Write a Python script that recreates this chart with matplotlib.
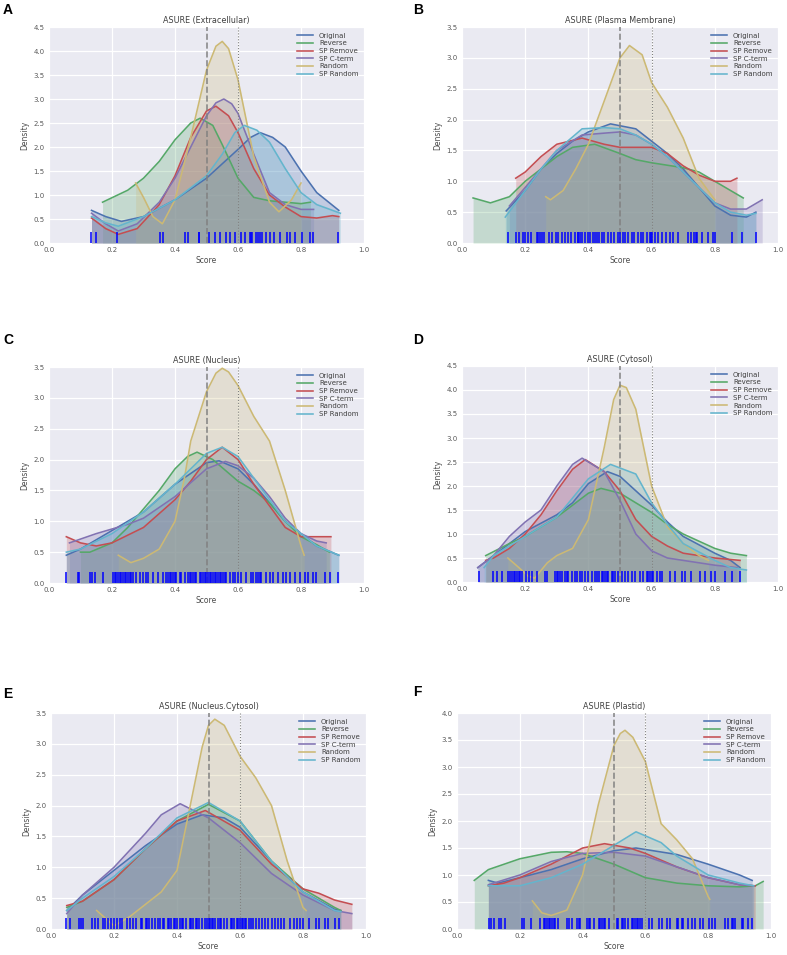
import numpy as np
import matplotlib
matplotlib.use("Agg")
import matplotlib.pyplot as plt

# series order / colours (old seaborn "deep" palette)
series = ["Original", "Reverse", "SP Remove", "SP C-term", "Random", "SP Random"]
colors = ["#4C72B0", "#55A868", "#C44E52", "#8172B2", "#CCB974", "#64B5CD"]

titles = ["ASURE (Extracellular)", "ASURE (Plasma Membrane)", "ASURE (Nucleus)",
          "ASURE (Cytosol)", "ASURE (Nucleus.Cytosol)", "ASURE (Plastid)"]
letters = ["A", "B", "C", "D", "E", "F"]
ymax = [4.5, 3.5, 3.5, 4.5, 3.5, 4.0]

# density curves: name -> (score, density)
curves_a = {
    "Original": ([0.135, 0.18, 0.23, 0.3, 0.4, 0.5, 0.6, 0.64, 0.67, 0.71, 0.75, 0.8, 0.85, 0.92],
                 [0.68, 0.55, 0.45, 0.55, 0.9, 1.35, 1.95, 2.2, 2.3, 2.2, 2.0, 1.5, 1.05, 0.68]),
    "Reverse": ([0.17, 0.25, 0.3, 0.35, 0.4, 0.45, 0.48, 0.52, 0.55, 0.6, 0.65, 0.7, 0.75, 0.8, 0.83],
                [0.85, 1.1, 1.35, 1.7, 2.15, 2.5, 2.6, 2.45, 2.05, 1.35, 0.95, 0.88, 0.85, 0.82, 0.85]),
    "SP Remove": ([0.135, 0.18, 0.22, 0.28, 0.35, 0.4, 0.45, 0.5, 0.53, 0.57, 0.6, 0.65, 0.7, 0.75, 0.8, 0.85, 0.9, 0.92],
                  [0.52, 0.3, 0.18, 0.3, 0.8, 1.4, 2.2, 2.75, 2.85, 2.65, 2.3, 1.55, 1.0, 0.75, 0.55, 0.52, 0.57, 0.55]),
    "SP C-term": ([0.135, 0.18, 0.22, 0.28, 0.35, 0.4, 0.45, 0.5, 0.53, 0.555, 0.58, 0.6, 0.65, 0.7, 0.75, 0.8, 0.84],
                  [0.62, 0.4, 0.25, 0.4, 0.85, 1.35, 2.0, 2.65, 2.92, 3.0, 2.9, 2.7, 1.85, 1.05, 0.8, 0.7, 0.7]),
    "Random": ([0.275, 0.3, 0.33, 0.36, 0.4, 0.45, 0.5, 0.53, 0.55, 0.57, 0.6, 0.65, 0.7, 0.73, 0.77, 0.8],
               [1.25, 0.95, 0.55, 0.4, 0.9, 2.2, 3.6, 4.1, 4.2, 4.05, 3.4, 1.8, 0.85, 0.65, 0.9, 1.25]),
    "SP Random": ([0.135, 0.18, 0.22, 0.3, 0.4, 0.5, 0.55, 0.59, 0.62, 0.66, 0.7, 0.75, 0.8, 0.85, 0.9, 0.925],
                  [0.55, 0.42, 0.35, 0.55, 0.9, 1.4, 1.85, 2.3, 2.45, 2.35, 2.1, 1.55, 1.05, 0.8, 0.68, 0.62]),
}
curves_b = {
    "Original": ([0.14, 0.2, 0.25, 0.3, 0.35, 0.4, 0.47, 0.55, 0.6, 0.65, 0.7, 0.75, 0.8, 0.85, 0.9, 0.93],
                 [0.52, 0.85, 1.2, 1.45, 1.65, 1.8, 1.93, 1.85, 1.65, 1.45, 1.2, 0.9, 0.6, 0.45, 0.42, 0.5]),
    "Reverse": ([0.035, 0.09, 0.15, 0.2, 0.25, 0.3, 0.35, 0.42, 0.5, 0.55, 0.6, 0.7, 0.75, 0.8, 0.85, 0.89],
                [0.73, 0.65, 0.75, 1.0, 1.2, 1.4, 1.55, 1.6, 1.45, 1.35, 1.3, 1.22, 1.15, 1.0, 0.85, 0.73]),
    "SP Remove": ([0.17, 0.2, 0.25, 0.3, 0.38, 0.45, 0.5, 0.55, 0.6, 0.65, 0.7, 0.75, 0.8, 0.85, 0.87],
                  [1.05, 1.15, 1.4, 1.6, 1.7, 1.6, 1.55, 1.55, 1.55, 1.45, 1.25, 1.1, 1.0, 1.0, 1.05]),
    "SP C-term": ([0.15, 0.2, 0.25, 0.3, 0.38, 0.45, 0.5, 0.55, 0.6, 0.65, 0.7, 0.75, 0.8, 0.85, 0.9, 0.95],
                  [0.6, 0.9, 1.2, 1.5, 1.75, 1.78, 1.8, 1.75, 1.6, 1.4, 1.15, 0.9, 0.65, 0.55, 0.55, 0.7]),
    "Random": ([0.265, 0.28, 0.32, 0.36, 0.4, 0.45, 0.5, 0.53, 0.57, 0.6, 0.65, 0.7, 0.75, 0.8],
               [0.75, 0.7, 0.85, 1.2, 1.6, 2.3, 3.0, 3.2, 3.05, 2.6, 2.2, 1.7, 1.05, 0.7]),
    "SP Random": ([0.137, 0.2, 0.25, 0.3, 0.38, 0.45, 0.5, 0.55, 0.6, 0.65, 0.7, 0.75, 0.8, 0.85, 0.9, 0.93],
                  [0.42, 0.85, 1.2, 1.5, 1.85, 1.87, 1.85, 1.75, 1.6, 1.4, 1.15, 0.9, 0.65, 0.5, 0.45, 0.48]),
}
curves_c = {
    "Original": ([0.055, 0.1, 0.2, 0.3, 0.4, 0.5, 0.54, 0.6, 0.65, 0.7, 0.75, 0.8, 0.85, 0.92],
                 [0.45, 0.55, 0.85, 1.15, 1.6, 1.95, 1.98, 1.85, 1.6, 1.3, 1.0, 0.8, 0.6, 0.45]),
    "Reverse": ([0.1, 0.13, 0.2, 0.25, 0.3, 0.35, 0.4, 0.44, 0.47, 0.52, 0.6, 0.65, 0.7, 0.75, 0.8, 0.85, 0.89],
                [0.5, 0.5, 0.65, 0.9, 1.2, 1.5, 1.85, 2.05, 2.12, 2.0, 1.65, 1.5, 1.3, 1.0, 0.75, 0.62, 0.5]),
    "SP Remove": ([0.055, 0.1, 0.15, 0.2, 0.3, 0.4, 0.45, 0.5, 0.55, 0.6, 0.65, 0.7, 0.75, 0.8, 0.85, 0.895],
                  [0.75, 0.65, 0.6, 0.65, 0.9, 1.35, 1.65, 2.0, 2.2, 2.0, 1.6, 1.25, 0.9, 0.75, 0.75, 0.75]),
    "SP C-term": ([0.065, 0.15, 0.25, 0.3, 0.4, 0.5, 0.56, 0.6, 0.65, 0.7, 0.75, 0.8, 0.85, 0.88],
                  [0.65, 0.8, 0.95, 1.05, 1.4, 1.85, 1.97, 1.9, 1.7, 1.4, 1.05, 0.8, 0.68, 0.65]),
    "Random": ([0.22, 0.26, 0.3, 0.35, 0.4, 0.43, 0.45, 0.5, 0.53, 0.55, 0.57, 0.6, 0.65, 0.7, 0.75, 0.8, 0.81],
               [0.45, 0.33, 0.4, 0.55, 1.0, 1.7, 2.3, 3.1, 3.4, 3.48, 3.42, 3.2, 2.7, 2.3, 1.5, 0.6, 0.45]),
    "SP Random": ([0.055, 0.1, 0.2, 0.3, 0.4, 0.5, 0.55, 0.6, 0.65, 0.7, 0.75, 0.8, 0.85, 0.92],
                  [0.5, 0.55, 0.8, 1.15, 1.6, 2.1, 2.2, 2.05, 1.7, 1.35, 1.0, 0.8, 0.6, 0.45]),
}
curves_d = {
    "Original": ([0.05, 0.1, 0.15, 0.2, 0.3, 0.35, 0.4, 0.46, 0.5, 0.55, 0.6, 0.65, 0.7, 0.8, 0.85, 0.88],
                 [0.3, 0.55, 0.8, 1.05, 1.4, 1.65, 2.05, 2.3, 2.2, 1.9, 1.6, 1.25, 0.95, 0.6, 0.45, 0.3]),
    "Reverse": ([0.075, 0.15, 0.2, 0.3, 0.4, 0.44, 0.5, 0.55, 0.6, 0.65, 0.7, 0.8, 0.85, 0.9],
                [0.55, 0.8, 0.95, 1.35, 1.85, 1.95, 1.85, 1.65, 1.45, 1.2, 1.0, 0.7, 0.6, 0.55]),
    "SP Remove": ([0.075, 0.1, 0.15, 0.2, 0.25, 0.3, 0.35, 0.39, 0.45, 0.5, 0.55, 0.6, 0.65, 0.7, 0.8, 0.88],
                  [0.45, 0.5, 0.7, 1.0, 1.4, 1.9, 2.35, 2.55, 2.3, 1.9, 1.3, 0.95, 0.75, 0.6, 0.5, 0.45]),
    "SP C-term": ([0.05, 0.1, 0.15, 0.2, 0.25, 0.3, 0.35, 0.38, 0.45, 0.5, 0.55, 0.6, 0.65, 0.7, 0.8, 0.87],
                  [0.3, 0.55, 0.95, 1.25, 1.5, 2.0, 2.45, 2.58, 2.3, 1.7, 1.0, 0.65, 0.5, 0.45, 0.35, 0.3]),
    "Random": ([0.145, 0.18, 0.21, 0.23, 0.27, 0.3, 0.35, 0.4, 0.45, 0.48, 0.5, 0.52, 0.55, 0.6, 0.65, 0.7, 0.75, 0.78],
               [0.5, 0.3, 0.12, 0.08, 0.4, 0.55, 0.7, 1.3, 2.8, 3.8, 4.1, 4.05, 3.6, 2.0, 1.15, 0.8, 0.55, 0.45]),
    "SP Random": ([0.07, 0.1, 0.2, 0.3, 0.4, 0.47, 0.55, 0.6, 0.65, 0.7, 0.8, 0.85, 0.9],
                  [0.3, 0.55, 0.95, 1.35, 2.15, 2.45, 2.25, 1.65, 1.2, 0.8, 0.45, 0.3, 0.25]),
}
curves_e = {
    "Original": ([0.05, 0.1, 0.2, 0.3, 0.4, 0.48, 0.55, 0.6, 0.7, 0.8, 0.9, 0.92],
                 [0.3, 0.55, 0.95, 1.35, 1.7, 1.85, 1.8, 1.65, 1.1, 0.6, 0.32, 0.3]),
    "Reverse": ([0.05, 0.1, 0.2, 0.3, 0.4, 0.5, 0.6, 0.7, 0.8, 0.9, 0.92],
                [0.35, 0.45, 0.8, 1.3, 1.75, 2.02, 1.75, 1.1, 0.65, 0.35, 0.3]),
    "SP Remove": ([0.05, 0.1, 0.2, 0.3, 0.4, 0.49, 0.6, 0.7, 0.8, 0.85, 0.9, 0.955],
                  [0.38, 0.45, 0.8, 1.3, 1.75, 1.92, 1.6, 1.05, 0.65, 0.58, 0.47, 0.4]),
    "SP C-term": ([0.05, 0.1, 0.2, 0.3, 0.35, 0.41, 0.5, 0.6, 0.7, 0.8, 0.9, 0.955],
                  [0.25, 0.55, 1.0, 1.55, 1.85, 2.03, 1.8, 1.4, 0.9, 0.55, 0.3, 0.25]),
    "Random": ([0.145, 0.2, 0.25, 0.3, 0.35, 0.4, 0.45, 0.48, 0.5, 0.52, 0.55, 0.6, 0.65, 0.7, 0.75, 0.8, 0.81],
               [0.3, 0.05, 0.2, 0.4, 0.6, 0.95, 2.2, 2.95, 3.3, 3.4, 3.3, 2.8, 2.45, 2.0, 1.1, 0.35, 0.3]),
    "SP Random": ([0.05, 0.1, 0.2, 0.3, 0.4, 0.5, 0.6, 0.7, 0.8, 0.9, 0.92],
                  [0.3, 0.5, 0.85, 1.3, 1.8, 2.05, 1.75, 1.1, 0.6, 0.3, 0.28]),
}
curves_f = {
    "Original": ([0.1, 0.13, 0.2, 0.3, 0.4, 0.5, 0.57, 0.7, 0.8, 0.9, 0.94],
                 [0.9, 0.85, 0.95, 1.1, 1.3, 1.45, 1.5, 1.38, 1.2, 1.0, 0.9]),
    "Reverse": ([0.055, 0.1, 0.2, 0.3, 0.35, 0.4, 0.5, 0.6, 0.7, 0.8, 0.9, 0.95, 0.975],
                [0.9, 1.1, 1.3, 1.42, 1.43, 1.4, 1.2, 0.95, 0.85, 0.8, 0.78, 0.8, 0.88]),
    "SP Remove": ([0.1, 0.15, 0.2, 0.3, 0.4, 0.47, 0.55, 0.6, 0.7, 0.8, 0.9, 0.95],
                  [0.8, 0.85, 0.95, 1.2, 1.5, 1.58, 1.5, 1.4, 1.15, 0.95, 0.82, 0.8]),
    "SP C-term": ([0.1, 0.2, 0.3, 0.4, 0.5, 0.6, 0.7, 0.8, 0.9, 0.945],
                  [0.82, 1.0, 1.25, 1.4, 1.42, 1.35, 1.15, 0.95, 0.82, 0.8]),
    "Random": ([0.24, 0.27, 0.3, 0.35, 0.4, 0.45, 0.5, 0.52, 0.535, 0.56, 0.6, 0.65, 0.7, 0.75, 0.8, 0.805],
               [0.52, 0.3, 0.25, 0.35, 1.0, 2.3, 3.4, 3.62, 3.68, 3.55, 3.1, 1.95, 1.65, 1.3, 0.6, 0.55]),
    "SP Random": ([0.1, 0.2, 0.3, 0.4, 0.5, 0.57, 0.65, 0.7, 0.8, 0.9, 0.945],
                  [0.8, 0.8, 0.95, 1.2, 1.55, 1.8, 1.6, 1.35, 1.0, 0.85, 0.8]),
}

# rug positions (scores of the original set)
rug_a = [0.134, 0.150, 0.216, 0.351, 0.362, 0.433, 0.441, 0.475, 0.476, 0.508, 0.526, 0.544,
         0.563, 0.574, 0.592, 0.608, 0.621, 0.639, 0.642, 0.644, 0.658, 0.663, 0.671, 0.677,
         0.690, 0.701, 0.713, 0.732, 0.756, 0.766, 0.780, 0.804, 0.830, 0.838, 0.917]
rug_b = [0.145, 0.171, 0.181, 0.192, 0.2, 0.208, 0.219, 0.237, 0.242, 0.247, 0.253, 0.258,
         0.274, 0.284, 0.297, 0.305, 0.316, 0.326, 0.334, 0.345, 0.358, 0.366, 0.368, 0.374,
         0.381, 0.389, 0.398, 0.405, 0.413, 0.421, 0.426, 0.434, 0.442, 0.449, 0.463, 0.472,
         0.481, 0.493, 0.501, 0.508, 0.516, 0.526, 0.539, 0.545, 0.558, 0.568, 0.574, 0.584,
         0.595, 0.598, 0.602, 0.611, 0.621, 0.632, 0.647, 0.658, 0.668, 0.684, 0.716, 0.726,
         0.735, 0.742, 0.745, 0.758, 0.779, 0.795, 0.8, 0.853, 0.887, 0.929]
rug_c = [0.055, 0.092, 0.095, 0.129, 0.138, 0.145, 0.171, 0.203, 0.208, 0.214, 0.219, 0.224,
         0.230, 0.235, 0.240, 0.246, 0.251, 0.256, 0.261, 0.267, 0.277, 0.288, 0.298, 0.309,
         0.314, 0.330, 0.346, 0.362, 0.372, 0.378, 0.383, 0.388, 0.394, 0.399, 0.404, 0.415,
         0.420, 0.431, 0.441, 0.447, 0.452, 0.457, 0.462, 0.468, 0.478, 0.484, 0.489, 0.494,
         0.499, 0.505, 0.510, 0.515, 0.521, 0.526, 0.531, 0.537, 0.542, 0.547, 0.552, 0.558,
         0.563, 0.574, 0.584, 0.589, 0.600, 0.611, 0.626, 0.642, 0.648, 0.658, 0.663, 0.669,
         0.674, 0.690, 0.701, 0.711, 0.727, 0.743, 0.753, 0.764, 0.780, 0.796, 0.812, 0.822,
         0.838, 0.849, 0.875, 0.891, 0.917]
rug_d = [0.053, 0.097, 0.111, 0.126, 0.147, 0.153, 0.158, 0.163, 0.168, 0.174, 0.179, 0.184,
         0.189, 0.202, 0.211, 0.221, 0.237, 0.263, 0.268, 0.295, 0.300, 0.305, 0.311, 0.316,
         0.326, 0.332, 0.337, 0.347, 0.358, 0.363, 0.374, 0.379, 0.389, 0.400, 0.411, 0.421,
         0.426, 0.432, 0.442, 0.447, 0.453, 0.458, 0.463, 0.474, 0.479, 0.484, 0.495, 0.505,
         0.516, 0.526, 0.537, 0.547, 0.563, 0.574, 0.584, 0.589, 0.595, 0.600, 0.605, 0.616,
         0.626, 0.632, 0.658, 0.674, 0.695, 0.705, 0.726, 0.753, 0.768, 0.789, 0.800, 0.832,
         0.853, 0.879]
rug_e = [0.047, 0.06, 0.09, 0.095, 0.1, 0.13, 0.14, 0.15, 0.165, 0.17, 0.18, 0.19, 0.2, 0.21,
         0.22, 0.225, 0.24, 0.25, 0.26, 0.27, 0.285, 0.29, 0.3, 0.305, 0.31, 0.32, 0.33, 0.34,
         0.345, 0.355, 0.36, 0.37, 0.375, 0.38, 0.39, 0.395, 0.4, 0.41, 0.415, 0.42, 0.43, 0.44,
         0.445, 0.45, 0.46, 0.465, 0.47, 0.48, 0.49, 0.495, 0.5, 0.505, 0.51, 0.515, 0.52, 0.53,
         0.535, 0.54, 0.55, 0.56, 0.57, 0.575, 0.58, 0.59, 0.595, 0.6, 0.605, 0.61, 0.615, 0.62,
         0.63, 0.635, 0.64, 0.65, 0.66, 0.67, 0.68, 0.69, 0.7, 0.71, 0.72, 0.73, 0.74, 0.76,
         0.77, 0.78, 0.79, 0.8, 0.82, 0.84, 0.85, 0.87, 0.88, 0.9, 0.915]
rug_f = [0.101, 0.109, 0.118, 0.133, 0.141, 0.154, 0.207, 0.212, 0.236, 0.265, 0.276, 0.281,
         0.286, 0.292, 0.297, 0.302, 0.308, 0.313, 0.323, 0.350, 0.357, 0.366, 0.382, 0.387,
         0.392, 0.413, 0.419, 0.424, 0.435, 0.451, 0.456, 0.461, 0.467, 0.472, 0.483, 0.509,
         0.514, 0.525, 0.530, 0.536, 0.546, 0.557, 0.562, 0.567, 0.573, 0.578, 0.583, 0.588,
         0.610, 0.620, 0.642, 0.652, 0.668, 0.679, 0.700, 0.705, 0.716, 0.721, 0.737, 0.748,
         0.758, 0.774, 0.785, 0.801, 0.811, 0.822, 0.854, 0.864, 0.875, 0.880, 0.885, 0.907,
         0.912, 0.928, 0.938]

all_curves = [curves_a, curves_b, curves_c, curves_d, curves_e, curves_f]
all_rugs = [rug_a, rug_b, rug_c, rug_d, rug_e, rug_f]

# axes boxes in pixels: left, right, top, bottom
W, H = 787, 955
boxes = [(49, 364, 27, 243), (462, 778, 27, 243),
         (49, 364, 367, 583), (462, 778, 366, 582),
         (51, 366, 713, 929), (457, 771, 713, 929)]
letter_pos = [(3, 3), (413, 3), (3, 333), (413, 333), (3, 687), (413, 685)]

fig = plt.figure(figsize=(W / 100, H / 100), dpi=100)
fig.patch.set_facecolor("white")

for i, (l, r, t, b) in enumerate(boxes):
    ax = fig.add_axes([l / W, 1 - b / H, (r - l) / W, (b - t) / H])
    ax.set_facecolor("#EAEAF2")
    for s in ax.spines.values():
        s.set_visible(False)
    ax.grid(True, color="white", lw=0.9)
    ax.set_axisbelow(True)

    curves = all_curves[i]
    for name, col in zip(series, colors):
        xs, ys = curves[name]
        ax.plot(xs, ys, color=col, lw=1.15, label=name, solid_joinstyle="round")
        ax.fill_between(xs, 0, ys, color=col, alpha=0.25, lw=0)

    ax.axvline(0.5, color="grey", ls="--", lw=1.2, alpha=0.9)
    ax.axvline(0.6, color="grey", ls=":", lw=0.8)
    ax.vlines(all_rugs[i], 0, 0.05, color="b", lw=1.1,
              transform=ax.get_xaxis_transform())

    ax.set_xlim(0, 1)
    ax.set_ylim(0, ymax[i])
    ax.set_xticks(np.arange(0, 1.01, 0.2))
    ax.set_yticks(np.arange(0, ymax[i] + 0.01, 0.5))
    ax.tick_params(length=0, labelsize=5, labelcolor="0.35", pad=3)
    ax.set_xlabel("Score", fontsize=5.5, color="0.3", labelpad=2)
    ax.set_ylabel("Density", fontsize=5.5, color="0.3", labelpad=3)
    ax.set_title(titles[i], fontsize=5.8, color="0.25", pad=3)
    leg = ax.legend(loc="upper right", fontsize=5, frameon=False,
                    handlelength=2.3, labelspacing=0.25, borderaxespad=0.4)
    for txt in leg.get_texts():
        txt.set_color("0.25")

    lx, ly = letter_pos[i]
    fig.text(lx / W, 1 - ly / H, letters[i], fontsize=10, fontweight="bold",
             family="Liberation Sans", va="top", ha="left")

fig.savefig("out.png", dpi=100)
